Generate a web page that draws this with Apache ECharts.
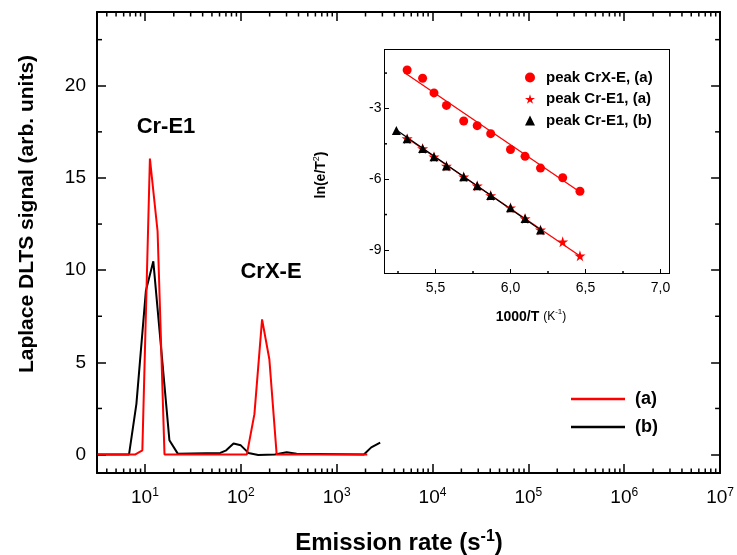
<!DOCTYPE html>
<html>
<head>
<meta charset="utf-8">
<script src="https://cdn.jsdelivr.net/npm/echarts@6/dist/echarts.min.js"></script>
<style>
    html, body { margin: 0; padding: 0; background: #fff; }
    #chart { width: 737px; height: 555px; }
</style>
</head>
<body>
<div id="chart"></div>
<script>
// main panel: Laplace DLTS spectra, emission rate (s^-1) vs signal
var rateA = [3.2, 7.87, 9.4, 11.27, 13.55, 16.0, 115.6, 138.7, 166.7, 198.6, 236.8, 2085];
var signalA = [0, 0, 0.23, 16.05, 12.11, 0, 0, 2.19, 7.33, 5.17, 0, 0];
var rateB = [3.2, 6.82, 8.15, 10.24, 12.23, 18.0, 22.0, 61.1, 70.5, 84, 100, 120, 152, 227, 301, 382, 1923, 2296, 2845];
var signalB = [0, 0, 2.75, 8.89, 10.48, 0.78, 0.05, 0.09, 0.23, 0.6, 0.5, 0.09, -0.02, 0, 0.12, 0.04, 0, 0.39, 0.65];

// main panel ticks
var yMajor = [0, 5, 10, 15, 20];
var yMinor = [2.5, 7.5, 12.5, 17.5, 22.5];
var decades = [1, 10, 100, 1000, 10000, 100000, 1000000];
var minorSteps = [2, 3, 4, 5, 6, 7, 8, 9];

// inset: Arrhenius plot, 1000/T vs ln(e/T^2)
var invT_crx = [5.311, 5.414, 5.490, 5.573, 5.688, 5.778, 5.868, 6.000, 6.097, 6.200, 6.348, 6.463];
var ln_crx = [-1.37, -1.72, -2.34, -2.87, -3.53, -3.73, -4.07, -4.74, -5.03, -5.53, -5.94, -6.51];
var invT_e1a = [5.311, 5.414, 5.490, 5.573, 5.688, 5.778, 5.868, 6.000, 6.097, 6.200, 6.348, 6.463];
var ln_e1a = [-4.28, -4.70, -5.05, -5.44, -5.90, -6.28, -6.69, -7.21, -7.67, -8.15, -8.65, -9.25];
var invT_e1b = [5.239, 5.311, 5.414, 5.490, 5.573, 5.688, 5.778, 5.868, 6.000, 6.097, 6.200];
var ln_e1b = [-3.93, -4.28, -4.70, -5.05, -5.44, -5.90, -6.28, -6.69, -7.21, -7.67, -8.15];
// linear fits (end points)
var fitCrxX = [5.299, 6.478], fitCrxY = [-1.51, -6.61];
var fitE1aX = [5.299, 6.478], fitE1aY = [-4.21, -9.32];
var fitE1bX = [5.232, 6.209], fitE1bY = [-3.88, -8.19];

// inset ticks
var inXMajor = [5.5, 6.0, 6.5, 7.0];
var inXMinor = [5.25, 5.75, 6.25, 6.75];
var inYMajor = [-3, -6, -9];
var inYMinor = [-1.5, -4.5, -7.5];

var FONT = "'Liberation Sans', Arial, sans-serif";
var rateMin = Math.pow(10, 0.5), rateMax = 1e7;
var yMin = -1, yMax = 24;
var inXMin = 5.16, inXMax = 7.06, inYMin = -10, inYMax = -0.5;

var STAR = 'path://M50,0 L61,35 L98,35 L68,57 L79,91 L50,70 L21,91 L32,57 L2,35 L39,35 Z';

function pairs(xs, ys) {
    return xs.map(function (x, i) { return [x, ys[i]]; });
}

var rateMinor = [];
decades.forEach(function (d) {
    minorSteps.forEach(function (k) {
        if (k * d > rateMin && k * d < rateMax) rateMinor.push(k * d);
    });
});

// small tick marks drawn through the axes' own coordinate mapping
function tickSeries(xi, yi, dim, values, edges, len) {
    return {
        type: 'custom',
        xAxisIndex: xi,
        yAxisIndex: yi,
        silent: true,
        clip: false,
        z: 5,
        data: values.map(function (v) {
            return dim === 'x' ? [v, edges[0][0]] : [edges[0][0], v];
        }),
        renderItem: function (params, api) {
            var v = api.value(dim === 'x' ? 0 : 1);
            var children = edges.map(function (e) {
                var p = dim === 'x' ? api.coord([v, e[0]]) : api.coord([e[0], v]);
                var x2 = dim === 'x' ? p[0] : p[0] + e[1] * len;
                var y2 = dim === 'x' ? p[1] + e[1] * len : p[1];
                return {
                    type: 'line',
                    shape: { x1: p[0], y1: p[1], x2: x2, y2: y2 },
                    style: { stroke: '#000', lineWidth: 1.5 }
                };
            });
            return { type: 'group', children: children };
        }
    };
}

var mychart = echarts.init(document.getElementById('chart'));

var option = {
    animation: false,
    backgroundColor: '#fff',
    textStyle: { fontFamily: FONT, color: '#000' },
    grid: [
        { left: 97, right: 15, top: 12, bottom: 82 },
        { left: 384.5, top: 49.5, width: 285, height: 224 }
    ],
    legend: [{
        data: ['(a)', '(b)'],
        orient: 'vertical',
        left: 566,
        top: 384,
        icon: 'rect',
        itemWidth: 54,
        itemHeight: 2.5,
        itemGap: 8,
        textStyle: { fontFamily: FONT, fontSize: 18, fontWeight: 'bold', color: '#000', lineHeight: 20, padding: [0, 0, 0, 5] }
    }, {
        data: ['peak CrX-E, (a)', 'peak Cr-E1, (a)', 'peak Cr-E1, (b)'],
        orient: 'vertical',
        left: 520,
        top: 64.5,
        itemWidth: 10,
        itemHeight: 10,
        itemGap: 5.5,
        textStyle: { fontFamily: FONT, fontSize: 15, fontWeight: 'bold', color: '#000', lineHeight: 16, padding: [0, 0, 0, 6] }
    }],
    xAxis: [{
        gridIndex: 0,
        type: 'log',
        logBase: 10,
        min: rateMin,
        max: rateMax,
        position: 'bottom',
        axisLine: { onZero: false, lineStyle: { color: '#000', width: 2 } },
        axisTick: { inside: true, length: 9, lineStyle: { color: '#000', width: 1.5 } },
        axisLabel: {
            margin: 14,
            color: '#000',
            formatter: function (v) {
                var n = Math.round(Math.log10(v));
                if (Math.abs(Math.log10(v) - n) > 0.01) return '';
                return '{b|10}{s|' + n + '}';
            },
            rich: {
                b: { fontFamily: FONT, fontSize: 19, lineHeight: 22, color: '#000' },
                s: { fontFamily: FONT, fontSize: 12, lineHeight: 14, verticalAlign: 'top', color: '#000' }
            }
        },
        splitLine: { show: false }
    }, {
        gridIndex: 0,
        type: 'log',
        logBase: 10,
        min: rateMin,
        max: rateMax,
        position: 'top',
        axisLine: { onZero: false, lineStyle: { color: '#000', width: 2 } },
        axisTick: { inside: true, length: 9, lineStyle: { color: '#000', width: 1.5 } },
        axisLabel: { show: false },
        splitLine: { show: false }
    }, {
        gridIndex: 1,
        type: 'value',
        min: inXMin,
        max: inXMax,
        position: 'bottom',
        axisLine: { onZero: false, lineStyle: { color: '#000', width: 1 } },
        axisTick: { customValues: inXMajor, inside: true, length: 4.5, lineStyle: { color: '#000', width: 1 } },
        axisLabel: {
            customValues: inXMajor,
            margin: 8,
            fontSize: 14,
            color: '#000',
            formatter: function (v) { return v.toFixed(1).replace('.', ','); }
        },
        splitLine: { show: false }
    }, {
        gridIndex: 1,
        type: 'value',
        min: inXMin,
        max: inXMax,
        position: 'top',
        axisLine: { onZero: false, lineStyle: { color: '#000', width: 1 } },
        axisTick: { show: false },
        axisLabel: { show: false },
        splitLine: { show: false }
    }],
    yAxis: [{
        gridIndex: 0,
        type: 'value',
        min: yMin,
        max: yMax,
        position: 'left',
        axisLine: { show: true, onZero: false, lineStyle: { color: '#000', width: 2 } },
        axisTick: { show: true, customValues: yMajor, inside: true, length: 9, lineStyle: { color: '#000', width: 1.5 } },
        axisLabel: { customValues: yMajor, margin: 11, fontSize: 19, color: '#000' },
        splitLine: { show: false }
    }, {
        gridIndex: 0,
        type: 'value',
        min: yMin,
        max: yMax,
        position: 'right',
        axisLine: { show: true, onZero: false, lineStyle: { color: '#000', width: 2 } },
        axisTick: { show: true, customValues: yMajor, inside: true, length: 9, lineStyle: { color: '#000', width: 1.5 } },
        axisLabel: { show: false },
        splitLine: { show: false }
    }, {
        gridIndex: 1,
        type: 'value',
        min: inYMin,
        max: inYMax,
        position: 'left',
        axisLine: { show: true, onZero: false, lineStyle: { color: '#000', width: 1 } },
        axisTick: { show: true, customValues: inYMajor, inside: true, length: 4.5, lineStyle: { color: '#000', width: 1 } },
        axisLabel: { customValues: inYMajor, margin: 3, fontSize: 14, color: '#000' },
        splitLine: { show: false }
    }, {
        gridIndex: 1,
        type: 'value',
        min: inYMin,
        max: inYMax,
        position: 'right',
        axisLine: { show: true, onZero: false, lineStyle: { color: '#000', width: 1 } },
        axisTick: { show: false },
        axisLabel: { show: false },
        splitLine: { show: false }
    }],
    series: [
        // minor ticks
        tickSeries(0, 0, 'x', rateMinor, [[yMin, -1], [yMax, 1]], 4.5),
        tickSeries(0, 0, 'y', yMinor, [[rateMin, 1], [rateMax, -1]], 5),
        tickSeries(2, 2, 'x', inXMinor, [[inYMin, -1]], 2.5),
        tickSeries(2, 2, 'y', inYMinor, [[inXMin, 1]], 2.5),
        {
            name: '(b)',
            type: 'line',
            xAxisIndex: 0,
            yAxisIndex: 0,
            data: pairs(rateB, signalB),
            symbol: 'none',
            lineStyle: { color: '#000', width: 2 },
            itemStyle: { color: '#000' },
            z: 2
        },
        {
            name: '(a)',
            type: 'line',
            xAxisIndex: 0,
            yAxisIndex: 0,
            data: pairs(rateA, signalA),
            symbol: 'none',
            lineStyle: { color: '#ff0000', width: 2 },
            itemStyle: { color: '#ff0000' },
            z: 3
        },
        {
            type: 'line',
            xAxisIndex: 2,
            yAxisIndex: 2,
            data: pairs(fitCrxX, fitCrxY),
            symbol: 'none',
            lineStyle: { color: '#ff0000', width: 1.3 },
            z: 3
        },
        {
            type: 'line',
            xAxisIndex: 2,
            yAxisIndex: 2,
            data: pairs(fitE1aX, fitE1aY),
            symbol: 'none',
            lineStyle: { color: '#ff0000', width: 1.3 },
            z: 3
        },
        {
            type: 'line',
            xAxisIndex: 2,
            yAxisIndex: 2,
            data: pairs(fitE1bX, fitE1bY),
            symbol: 'none',
            lineStyle: { color: '#000', width: 1.3 },
            z: 3
        },
        {
            name: 'peak CrX-E, (a)',
            type: 'scatter',
            xAxisIndex: 2,
            yAxisIndex: 2,
            data: pairs(invT_crx, ln_crx),
            symbol: 'circle',
            symbolSize: 9,
            itemStyle: { color: '#ff0000', opacity: 1 },
            z: 4
        },
        {
            name: 'peak Cr-E1, (a)',
            type: 'scatter',
            xAxisIndex: 2,
            yAxisIndex: 2,
            data: pairs(invT_e1a, ln_e1a),
            symbol: STAR,
            symbolSize: 11,
            itemStyle: { color: '#ff0000', opacity: 1 },
            z: 4
        },
        {
            name: 'peak Cr-E1, (b)',
            type: 'scatter',
            xAxisIndex: 2,
            yAxisIndex: 2,
            data: pairs(invT_e1b, ln_e1b),
            symbol: 'triangle',
            symbolSize: 9,
            itemStyle: { color: '#000', opacity: 1 },
            z: 5
        }
    ],
    graphic: [{
        type: 'text',
        x: 27,
        y: 214,
        rotation: Math.PI / 2,
        style: {
            text: 'Laplace DLTS signal (arb. units)',
            font: 'bold 21px ' + FONT,
            fill: '#000',
            align: 'center',
            verticalAlign: 'middle'
        }
    }, {
        type: 'text',
        x: 399,
        y: 543,
        style: {
            text: '{a|Emission rate (s}{s|-1}{a|)}',
            align: 'center',
            verticalAlign: 'middle',
            rich: {
                a: { fontFamily: FONT, fontSize: 24, fontWeight: 'bold', lineHeight: 28, fill: '#000' },
                s: { fontFamily: FONT, fontSize: 16, fontWeight: 'bold', lineHeight: 16, verticalAlign: 'top', fill: '#000' }
            }
        }
    }, {
        type: 'text',
        x: 166,
        y: 127,
        style: { text: 'Cr-E1', font: 'bold 22px ' + FONT, fill: '#000', align: 'center', verticalAlign: 'middle' }
    }, {
        type: 'text',
        x: 271,
        y: 272,
        style: { text: 'CrX-E', font: 'bold 22px ' + FONT, fill: '#000', align: 'center', verticalAlign: 'middle' }
    }, {
        type: 'text',
        x: 531,
        y: 317,
        style: {
            text: '{a|1000/T }{b|(K}{s|-1}{b|)}',
            align: 'center',
            verticalAlign: 'middle',
            rich: {
                a: { fontFamily: FONT, fontSize: 14, fontWeight: 'bold', lineHeight: 18, fill: '#000' },
                b: { fontFamily: FONT, fontSize: 12, lineHeight: 18, fill: '#000' },
                s: { fontFamily: FONT, fontSize: 8, lineHeight: 12, verticalAlign: 'top', fill: '#000' }
            }
        }
    }, {
        type: 'text',
        x: 321,
        y: 175,
        rotation: Math.PI / 2,
        style: {
            text: '{a|ln(e/T}{s|2}{a|)}',
            align: 'center',
            verticalAlign: 'middle',
            rich: {
                a: { fontFamily: FONT, fontSize: 14, fontWeight: 'bold', lineHeight: 18, fill: '#000' },
                s: { fontFamily: FONT, fontSize: 9, lineHeight: 12, verticalAlign: 'top', fill: '#000' }
            }
        }
    }]
};

mychart.setOption(option);
</script>
</body>
</html>
